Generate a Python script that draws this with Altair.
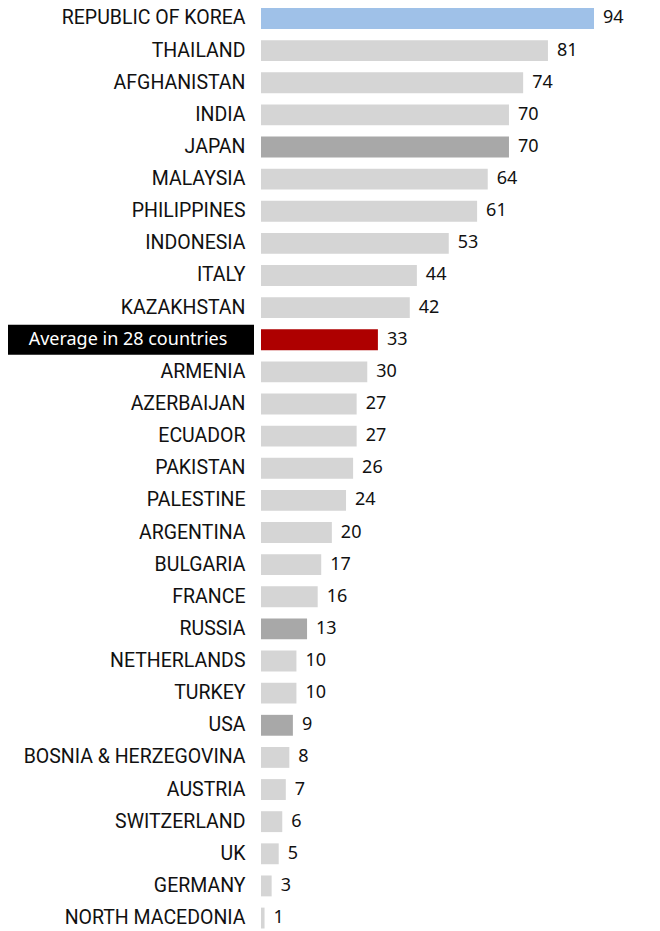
import altair as alt
import pandas as pd

countries = ["REPUBLIC OF KOREA", "THAILAND", "AFGHANISTAN", "INDIA", "JAPAN", "MALAYSIA",
             "PHILIPPINES", "INDONESIA", "ITALY", "KAZAKHSTAN", "Average in 28 countries",
             "ARMENIA", "AZERBAIJAN", "ECUADOR", "PAKISTAN", "PALESTINE", "ARGENTINA",
             "BULGARIA", "FRANCE", "RUSSIA", "NETHERLANDS", "TURKEY", "USA",
             "BOSNIA & HERZEGOVINA", "AUSTRIA", "SWITZERLAND", "UK", "GERMANY", "NORTH MACEDONIA"]
values = [94, 81, 74, 70, 70, 64, 61, 53, 44, 42, 33, 30, 27, 27, 26, 24, 20, 17, 16, 13,
          10, 10, 9, 8, 7, 6, 5, 3, 1]
groups = ["korea", "other", "other", "other", "dark", "other", "other", "other", "other", "other",
          "avg", "other", "other", "other", "other", "other", "other", "other", "other", "dark",
          "other", "other", "dark", "other", "other", "other", "other", "other", "other"]

group_names = ["korea", "other", "dark", "avg"]
group_colors = ["#9FC1E8", "#D5D5D5", "#A8A8A8", "#AE0000"]

AVG = "Average in 28 countries"

df = pd.DataFrame({"country": countries, "value": values, "group": groups})

y = alt.Y("country:N", sort=countries,
          scale=alt.Scale(range=[0, 920.5], paddingInner=0.35, paddingOuter=0),
          axis=alt.Axis(title=None, domain=False, ticks=False, labelPadding=16,
                        labelFont="Roboto", labelFontSize=19.5,
                        labelColor="#111111", labelLimit=300,
                        labelExpr=f"datum.label == '{AVG}' ? '' : datum.label"))

bars = alt.Chart(df).mark_bar().encode(
    x=alt.X("value:Q", scale=alt.Scale(domain=[0, 94], nice=False), axis=None),
    y=y,
    color=alt.Color("group:N", scale=alt.Scale(domain=group_names, range=group_colors), legend=None),
)

labels = alt.Chart(df).mark_text(align="left", baseline="middle", dx=9, font="Noto Sans",
                                 fontSize=18, color="#111111").encode(
    x="value:Q", y=y, text="value:Q")

avg_df = df[df["country"] == AVG]
box = alt.Chart(avg_df).mark_bar(height=30, color="black").encode(
    y=y, x=alt.value(-253), x2=alt.value(-7))
box_text = alt.Chart(avg_df).mark_text(align="center", baseline="middle", font="Noto Sans",
                                       fontSize=18, color="white").encode(
    y=y, x=alt.value(-133), text="country:N")

chart = alt.layer(bars, labels, box, box_text).properties(
    width=333, height=915,
    autosize=alt.AutoSizeParams(type="none"),
    padding={"left": 253, "top": 0, "right": 55, "bottom": 8},
).configure_view(stroke=None)

chart.save("out.html", embed_options={"renderer": "svg", "actions": False})
